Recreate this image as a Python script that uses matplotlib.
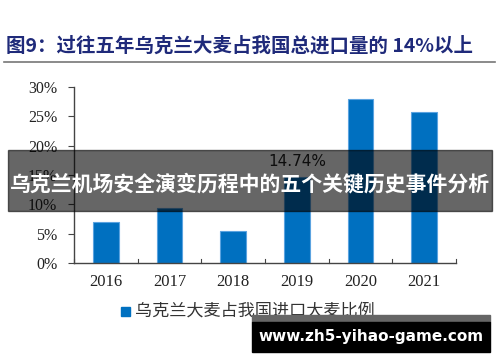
import numpy as np
import matplotlib.pyplot as plt
from matplotlib.patches import Rectangle

years = ['2016', '2017', '2018', '2019', '2020', '2021']
share = [7.0, 9.3, 5.4, 14.74, 28.0, 25.8]
yticks = [0, 5, 10, 15, 20, 25, 30]

W, H = 500, 362

def fx(px):
	return px / W

def fy(py):
	return 1 - py / H

plt.rcParams['font.family'] = ['Liberation Serif', 'Noto Sans CJK SC']
fig = plt.figure(figsize=(5, 3.62), dpi=100)
ax = fig.add_axes([fx(74), fy(263), fx(456) - fx(74), fy(87) - fy(263)])

x = np.arange(len(years))
ax.bar(x, share, width=0.4, color='#0070C0', edgecolor='#5BA3E0', linewidth=0.8, zorder=2)
ax.set_xlim(-0.5, len(years) - 0.5)
ax.set_ylim(0, 30)
ax.set_yticks(yticks)
ax.set_yticklabels([str(v) + '%' for v in yticks], fontsize=11.5, color='#222222')
ax.set_xticks(x)
ax.set_xticklabels(years, fontsize=12, color='#222222')
ax.tick_params(axis='x', length=0, pad=8)
ax.tick_params(axis='y', length=4, width=0.8, color='#444444', pad=8)
for b in np.arange(len(years) + 1) - 0.5:
	ax.plot([b, b], [0, 0.6], color='#444444', lw=0.8, clip_on=False)
for s in ['top', 'right']:
	ax.spines[s].set_visible(False)
for s in ['left', 'bottom']:
	ax.spines[s].set_color('#444444')
	ax.spines[s].set_linewidth(1)

ax.text(3, share[3] + 1.2, '14.74%', ha='center', va='bottom', fontsize=11,
	family=['DejaVu Sans'], color='#222222')

# title
fig.text(fx(6), fy(46), '图9：过往五年乌克兰大麦占我国总进口量的 14%以上', fontsize=14,
	fontweight='bold', color='#1F2A7A', va='center', family=['Noto Sans CJK SC'])
fig.add_artist(plt.Line2D([fx(4), fx(495)], [fy(62), fy(62)], color='#777777', lw=1.2))

# legend
fig.add_artist(Rectangle((fx(121), fy(316)), fx(9), fy(307) - fy(316), color='#0070C0',
	transform=fig.transFigure))
fig.text(fx(135), fy(311), '乌克兰大麦占我国进口大麦比例', fontsize=12.3, color='#333333',
	va='center', family=['Noto Sans CJK SC'])

# banner overlay
fig.add_artist(Rectangle((fx(8), fy(211)), fx(492) - fx(8), fy(150) - fy(211), color='black',
	alpha=0.6, transform=fig.transFigure, zorder=10))
fig.text(0.5, fy(184), '乌克兰机场安全演变历程中的五个关键历史事件分析', fontsize=15,
	fontweight='bold', color='white', ha='center', va='center', zorder=11,
	family=['Noto Sans CJK SC'])

# watermark
fig.add_artist(Rectangle((fx(252), fy(322)), fx(490) - fx(252), fy(315) - fy(322), color='#666666',
	transform=fig.transFigure, zorder=10))
fig.add_artist(Rectangle((fx(252), fy(352)), fx(490) - fx(252), fy(322) - fy(352), color='black',
	transform=fig.transFigure, zorder=10))
fig.text(fx(371), fy(337), 'www.zh5-yihao-game.com', fontsize=11, fontweight='bold',
	color='white', ha='center', va='center', zorder=11, family=['DejaVu Sans'])

fig.savefig('out.png', dpi=100)
